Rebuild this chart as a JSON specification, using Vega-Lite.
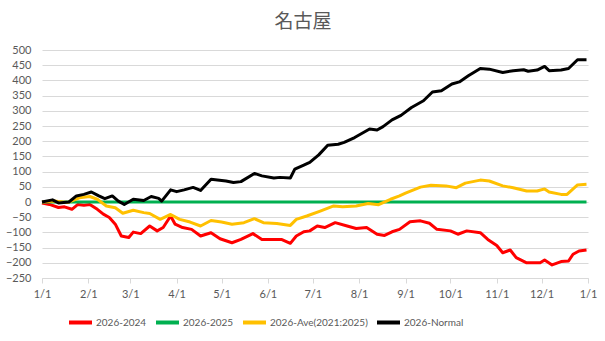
{
  "$schema": "https://vega.github.io/schema/vega-lite/v6.json",
  "width": 546,
  "height": 228,
  "autosize": {"type": "none"},
  "padding": {"left": 42, "top": 50, "right": 17, "bottom": 63},
  "background": "white",
  "title": {"text": "名古屋", "font": "Noto Sans CJK JP", "fontSize": 19, "fontWeight": "normal", "color": "#595959", "offset": 12, "dx": -12},
  "data": {"values": [
    {"date": "2026/01/01", "series": "2026-2024", "value": -3},
    {"date": "2026/01/06", "series": "2026-2024", "value": -8},
    {"date": "2026/01/12", "series": "2026-2024", "value": -18},
    {"date": "2026/01/16", "series": "2026-2024", "value": -16},
    {"date": "2026/01/21", "series": "2026-2024", "value": -24},
    {"date": "2026/01/25", "series": "2026-2024", "value": -8},
    {"date": "2026/01/29", "series": "2026-2024", "value": -11},
    {"date": "2026/02/02", "series": "2026-2024", "value": -8},
    {"date": "2026/02/07", "series": "2026-2024", "value": -24},
    {"date": "2026/02/11", "series": "2026-2024", "value": -40},
    {"date": "2026/02/15", "series": "2026-2024", "value": -51},
    {"date": "2026/02/19", "series": "2026-2024", "value": -73},
    {"date": "2026/02/23", "series": "2026-2024", "value": -112},
    {"date": "2026/02/28", "series": "2026-2024", "value": -117},
    {"date": "2026/03/03", "series": "2026-2024", "value": -99},
    {"date": "2026/03/08", "series": "2026-2024", "value": -104},
    {"date": "2026/03/14", "series": "2026-2024", "value": -79},
    {"date": "2026/03/19", "series": "2026-2024", "value": -95},
    {"date": "2026/03/23", "series": "2026-2024", "value": -84},
    {"date": "2026/03/28", "series": "2026-2024", "value": -46},
    {"date": "2026/03/31", "series": "2026-2024", "value": -73},
    {"date": "2026/04/05", "series": "2026-2024", "value": -84},
    {"date": "2026/04/11", "series": "2026-2024", "value": -90},
    {"date": "2026/04/17", "series": "2026-2024", "value": -112},
    {"date": "2026/04/24", "series": "2026-2024", "value": -101},
    {"date": "2026/04/30", "series": "2026-2024", "value": -121},
    {"date": "2026/05/08", "series": "2026-2024", "value": -134},
    {"date": "2026/05/14", "series": "2026-2024", "value": -123},
    {"date": "2026/05/22", "series": "2026-2024", "value": -104},
    {"date": "2026/05/28", "series": "2026-2024", "value": -123},
    {"date": "2026/06/05", "series": "2026-2024", "value": -123},
    {"date": "2026/06/10", "series": "2026-2024", "value": -123},
    {"date": "2026/06/16", "series": "2026-2024", "value": -136},
    {"date": "2026/06/20", "series": "2026-2024", "value": -112},
    {"date": "2026/06/25", "series": "2026-2024", "value": -98},
    {"date": "2026/06/29", "series": "2026-2024", "value": -95},
    {"date": "2026/07/04", "series": "2026-2024", "value": -79},
    {"date": "2026/07/09", "series": "2026-2024", "value": -84},
    {"date": "2026/07/16", "series": "2026-2024", "value": -68},
    {"date": "2026/07/24", "series": "2026-2024", "value": -79},
    {"date": "2026/07/30", "series": "2026-2024", "value": -87},
    {"date": "2026/08/06", "series": "2026-2024", "value": -84},
    {"date": "2026/08/13", "series": "2026-2024", "value": -106},
    {"date": "2026/08/18", "series": "2026-2024", "value": -110},
    {"date": "2026/08/23", "series": "2026-2024", "value": -98},
    {"date": "2026/08/28", "series": "2026-2024", "value": -90},
    {"date": "2026/09/04", "series": "2026-2024", "value": -65},
    {"date": "2026/09/11", "series": "2026-2024", "value": -62},
    {"date": "2026/09/17", "series": "2026-2024", "value": -70},
    {"date": "2026/09/22", "series": "2026-2024", "value": -90},
    {"date": "2026/10/01", "series": "2026-2024", "value": -95},
    {"date": "2026/10/06", "series": "2026-2024", "value": -106},
    {"date": "2026/10/12", "series": "2026-2024", "value": -95},
    {"date": "2026/10/21", "series": "2026-2024", "value": -101},
    {"date": "2026/10/26", "series": "2026-2024", "value": -123},
    {"date": "2026/11/01", "series": "2026-2024", "value": -143},
    {"date": "2026/11/05", "series": "2026-2024", "value": -167},
    {"date": "2026/11/10", "series": "2026-2024", "value": -158},
    {"date": "2026/11/14", "series": "2026-2024", "value": -183},
    {"date": "2026/11/21", "series": "2026-2024", "value": -200},
    {"date": "2026/11/30", "series": "2026-2024", "value": -200},
    {"date": "2026/12/03", "series": "2026-2024", "value": -191},
    {"date": "2026/12/08", "series": "2026-2024", "value": -207},
    {"date": "2026/12/14", "series": "2026-2024", "value": -196},
    {"date": "2026/12/19", "series": "2026-2024", "value": -194},
    {"date": "2026/12/22", "series": "2026-2024", "value": -172},
    {"date": "2026/12/26", "series": "2026-2024", "value": -161},
    {"date": "2026/12/31", "series": "2026-2024", "value": -158},
    {"date": "2026/01/01", "series": "2026-2025", "value": 0},
    {"date": "2026/12/31", "series": "2026-2025", "value": 0},
    {"date": "2026/01/01", "series": "2026-Ave(2021:2025)", "value": 0},
    {"date": "2026/01/09", "series": "2026-Ave(2021:2025)", "value": 3},
    {"date": "2026/01/18", "series": "2026-Ave(2021:2025)", "value": -2},
    {"date": "2026/01/26", "series": "2026-Ave(2021:2025)", "value": 14},
    {"date": "2026/02/02", "series": "2026-Ave(2021:2025)", "value": 18},
    {"date": "2026/02/07", "series": "2026-Ave(2021:2025)", "value": 9},
    {"date": "2026/02/13", "series": "2026-Ave(2021:2025)", "value": -13},
    {"date": "2026/02/19", "series": "2026-Ave(2021:2025)", "value": -19},
    {"date": "2026/02/24", "series": "2026-Ave(2021:2025)", "value": -37},
    {"date": "2026/03/03", "series": "2026-Ave(2021:2025)", "value": -27},
    {"date": "2026/03/10", "series": "2026-Ave(2021:2025)", "value": -35},
    {"date": "2026/03/14", "series": "2026-Ave(2021:2025)", "value": -38},
    {"date": "2026/03/21", "series": "2026-Ave(2021:2025)", "value": -57},
    {"date": "2026/03/28", "series": "2026-Ave(2021:2025)", "value": -41},
    {"date": "2026/04/03", "series": "2026-Ave(2021:2025)", "value": -57},
    {"date": "2026/04/10", "series": "2026-Ave(2021:2025)", "value": -66},
    {"date": "2026/04/17", "series": "2026-Ave(2021:2025)", "value": -79},
    {"date": "2026/04/24", "series": "2026-Ave(2021:2025)", "value": -61},
    {"date": "2026/05/01", "series": "2026-Ave(2021:2025)", "value": -66},
    {"date": "2026/05/08", "series": "2026-Ave(2021:2025)", "value": -73},
    {"date": "2026/05/16", "series": "2026-Ave(2021:2025)", "value": -68},
    {"date": "2026/05/23", "series": "2026-Ave(2021:2025)", "value": -55},
    {"date": "2026/05/29", "series": "2026-Ave(2021:2025)", "value": -68},
    {"date": "2026/06/07", "series": "2026-Ave(2021:2025)", "value": -71},
    {"date": "2026/06/16", "series": "2026-Ave(2021:2025)", "value": -77},
    {"date": "2026/06/20", "series": "2026-Ave(2021:2025)", "value": -57},
    {"date": "2026/06/27", "series": "2026-Ave(2021:2025)", "value": -46},
    {"date": "2026/07/06", "series": "2026-Ave(2021:2025)", "value": -30},
    {"date": "2026/07/15", "series": "2026-Ave(2021:2025)", "value": -13},
    {"date": "2026/07/21", "series": "2026-Ave(2021:2025)", "value": -16},
    {"date": "2026/07/30", "series": "2026-Ave(2021:2025)", "value": -13},
    {"date": "2026/08/07", "series": "2026-Ave(2021:2025)", "value": -5},
    {"date": "2026/08/14", "series": "2026-Ave(2021:2025)", "value": -9},
    {"date": "2026/08/22", "series": "2026-Ave(2021:2025)", "value": 9},
    {"date": "2026/08/28", "series": "2026-Ave(2021:2025)", "value": 20},
    {"date": "2026/09/01", "series": "2026-Ave(2021:2025)", "value": 29},
    {"date": "2026/09/11", "series": "2026-Ave(2021:2025)", "value": 49},
    {"date": "2026/09/18", "series": "2026-Ave(2021:2025)", "value": 55},
    {"date": "2026/09/28", "series": "2026-Ave(2021:2025)", "value": 53},
    {"date": "2026/10/05", "series": "2026-Ave(2021:2025)", "value": 47},
    {"date": "2026/10/11", "series": "2026-Ave(2021:2025)", "value": 62},
    {"date": "2026/10/21", "series": "2026-Ave(2021:2025)", "value": 72},
    {"date": "2026/10/27", "series": "2026-Ave(2021:2025)", "value": 69},
    {"date": "2026/11/05", "series": "2026-Ave(2021:2025)", "value": 53},
    {"date": "2026/11/12", "series": "2026-Ave(2021:2025)", "value": 47},
    {"date": "2026/11/21", "series": "2026-Ave(2021:2025)", "value": 36},
    {"date": "2026/11/28", "series": "2026-Ave(2021:2025)", "value": 36},
    {"date": "2026/12/03", "series": "2026-Ave(2021:2025)", "value": 43},
    {"date": "2026/12/06", "series": "2026-Ave(2021:2025)", "value": 33},
    {"date": "2026/12/14", "series": "2026-Ave(2021:2025)", "value": 25},
    {"date": "2026/12/18", "series": "2026-Ave(2021:2025)", "value": 25},
    {"date": "2026/12/25", "series": "2026-Ave(2021:2025)", "value": 56},
    {"date": "2026/12/31", "series": "2026-Ave(2021:2025)", "value": 58},
    {"date": "2026/01/01", "series": "2026-Normal", "value": 0},
    {"date": "2026/01/08", "series": "2026-Normal", "value": 7},
    {"date": "2026/01/12", "series": "2026-Normal", "value": -3},
    {"date": "2026/01/19", "series": "2026-Normal", "value": 0},
    {"date": "2026/01/24", "series": "2026-Normal", "value": 20},
    {"date": "2026/01/29", "series": "2026-Normal", "value": 25},
    {"date": "2026/02/03", "series": "2026-Normal", "value": 33},
    {"date": "2026/02/08", "series": "2026-Normal", "value": 20},
    {"date": "2026/02/12", "series": "2026-Normal", "value": 11},
    {"date": "2026/02/17", "series": "2026-Normal", "value": 20},
    {"date": "2026/02/21", "series": "2026-Normal", "value": 3},
    {"date": "2026/02/25", "series": "2026-Normal", "value": -8},
    {"date": "2026/03/03", "series": "2026-Normal", "value": 9},
    {"date": "2026/03/10", "series": "2026-Normal", "value": 5},
    {"date": "2026/03/15", "series": "2026-Normal", "value": 18},
    {"date": "2026/03/20", "series": "2026-Normal", "value": 12},
    {"date": "2026/03/22", "series": "2026-Normal", "value": 3},
    {"date": "2026/03/28", "series": "2026-Normal", "value": 40},
    {"date": "2026/04/01", "series": "2026-Normal", "value": 34},
    {"date": "2026/04/06", "series": "2026-Normal", "value": 40},
    {"date": "2026/04/12", "series": "2026-Normal", "value": 48},
    {"date": "2026/04/17", "series": "2026-Normal", "value": 38},
    {"date": "2026/04/24", "series": "2026-Normal", "value": 75},
    {"date": "2026/05/04", "series": "2026-Normal", "value": 69},
    {"date": "2026/05/09", "series": "2026-Normal", "value": 64},
    {"date": "2026/05/14", "series": "2026-Normal", "value": 67},
    {"date": "2026/05/23", "series": "2026-Normal", "value": 94},
    {"date": "2026/05/28", "series": "2026-Normal", "value": 86},
    {"date": "2026/06/05", "series": "2026-Normal", "value": 79},
    {"date": "2026/06/09", "series": "2026-Normal", "value": 81},
    {"date": "2026/06/16", "series": "2026-Normal", "value": 79},
    {"date": "2026/06/19", "series": "2026-Normal", "value": 108},
    {"date": "2026/06/25", "series": "2026-Normal", "value": 121},
    {"date": "2026/06/29", "series": "2026-Normal", "value": 130},
    {"date": "2026/07/05", "series": "2026-Normal", "value": 155},
    {"date": "2026/07/11", "series": "2026-Normal", "value": 187},
    {"date": "2026/07/18", "series": "2026-Normal", "value": 190},
    {"date": "2026/07/22", "series": "2026-Normal", "value": 196},
    {"date": "2026/07/29", "series": "2026-Normal", "value": 212},
    {"date": "2026/08/03", "series": "2026-Normal", "value": 226},
    {"date": "2026/08/08", "series": "2026-Normal", "value": 240},
    {"date": "2026/08/13", "series": "2026-Normal", "value": 237},
    {"date": "2026/08/17", "series": "2026-Normal", "value": 248},
    {"date": "2026/08/23", "series": "2026-Normal", "value": 270},
    {"date": "2026/08/29", "series": "2026-Normal", "value": 285},
    {"date": "2026/09/05", "series": "2026-Normal", "value": 311},
    {"date": "2026/09/13", "series": "2026-Normal", "value": 333},
    {"date": "2026/09/19", "series": "2026-Normal", "value": 362},
    {"date": "2026/09/25", "series": "2026-Normal", "value": 366},
    {"date": "2026/10/02", "series": "2026-Normal", "value": 388},
    {"date": "2026/10/07", "series": "2026-Normal", "value": 395},
    {"date": "2026/10/13", "series": "2026-Normal", "value": 415},
    {"date": "2026/10/21", "series": "2026-Normal", "value": 439},
    {"date": "2026/10/27", "series": "2026-Normal", "value": 437},
    {"date": "2026/11/05", "series": "2026-Normal", "value": 426},
    {"date": "2026/11/12", "series": "2026-Normal", "value": 432},
    {"date": "2026/11/19", "series": "2026-Normal", "value": 435},
    {"date": "2026/11/22", "series": "2026-Normal", "value": 430},
    {"date": "2026/11/28", "series": "2026-Normal", "value": 434},
    {"date": "2026/12/03", "series": "2026-Normal", "value": 446},
    {"date": "2026/12/06", "series": "2026-Normal", "value": 432},
    {"date": "2026/12/14", "series": "2026-Normal", "value": 434},
    {"date": "2026/12/19", "series": "2026-Normal", "value": 439},
    {"date": "2026/12/25", "series": "2026-Normal", "value": 468},
    {"date": "2026/12/31", "series": "2026-Normal", "value": 468}
  ]},
  "mark": {"type": "line", "strokeWidth": 3, "strokeJoin": "round"},
  "encoding": {
    "x": {
      "field": "date", "type": "temporal",
      "scale": {"domain": [{"year": 2026, "month": 1, "date": 1}, {"year": 2027, "month": 1, "date": 1}]},
      "axis": {"title": null, "format": "%-m/%-d", "tickCount": {"interval": "month", "step": 1}, "grid": false, "domainColor": "#d9d9d9", "tickColor": "#d9d9d9", "tickSize": 5, "labelColor": "#595959", "labelFont": "Lato", "labelFontSize": 11, "labelPadding": 5, "labelFlush": false, "labelOverlap": false}
    },
    "y": {
      "field": "value", "type": "quantitative",
      "scale": {"domain": [-250, 500], "nice": false, "zero": false},
      "axis": {"title": null, "values": [-250, -200, -150, -100, -50, 0, 50, 100, 150, 200, 250, 300, 350, 400, 450, 500], "grid": true, "gridColor": "#d9d9d9", "domain": false, "ticks": false, "labelColor": "#595959", "labelFont": "Lato", "labelFontSize": 11, "labelPadding": 11}
    },
    "color": {
      "field": "series", "type": "nominal",
      "scale": {"domain": ["2026-2024", "2026-2025", "2026-Ave(2021:2025)", "2026-Normal"], "range": ["#ff0000", "#00b050", "#ffc000", "#000000"]},
      "legend": {"orient": "none", "legendX": 25, "legendY": 259, "direction": "horizontal", "gridAlign": "none", "title": null, "symbolType": "stroke", "symbolStrokeWidth": 4, "symbolSize": 529, "labelFont": "Lato", "labelFontSize": 10, "labelColor": "#595959", "columnPadding": 1, "labelOffset": 2}
    }
  },
  "config": {"view": {"stroke": null}}
}
